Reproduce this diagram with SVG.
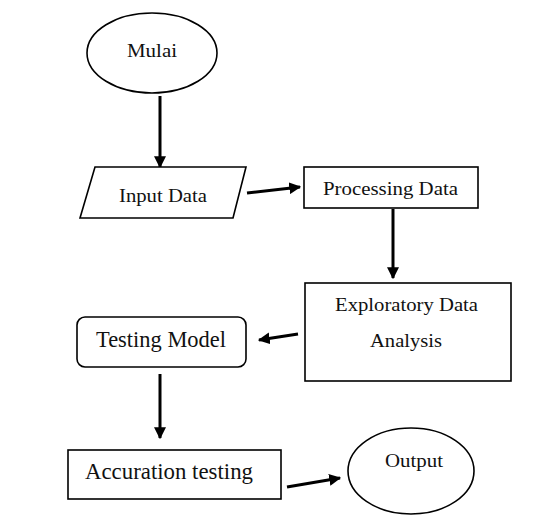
<svg xmlns="http://www.w3.org/2000/svg" width="539" height="516" viewBox="0 0 539 516">
<defs>
<style>
.s{fill:#fff;stroke:#000;stroke-width:1.6}
.t{font-family:"Liberation Serif","Times New Roman",serif;fill:#111;text-anchor:middle;font-size:19px}
.b{font-size:23px}
.c{stroke:#000;stroke-width:3;fill:none;marker-end:url(#ah)}
</style>
<marker id="ah" viewBox="0 0 10 10" refX="9" refY="5" markerWidth="4" markerHeight="4" orient="auto" markerUnits="strokeWidth">
<path d="M0,0 L10,5 L0,10 z" fill="#000"/>
</marker>
</defs>
<rect width="539" height="516" fill="#fff"/>
<g id="connectors">
<line class="c" x1="160" y1="96" x2="160" y2="167"/>
<line class="c" x1="247" y1="193" x2="300" y2="187"/>
<line class="c" x1="393" y1="209" x2="393" y2="278"/>
<line class="c" x1="298" y1="334" x2="259" y2="340"/>
<line class="c" x1="160" y1="374" x2="160" y2="438"/>
<line class="c" x1="287" y1="487" x2="340" y2="478"/>
</g>
<g id="mulai">
<ellipse class="s" cx="152" cy="53" rx="65" ry="40"/>
<text class="t" x="152" y="57" textLength="50" lengthAdjust="spacingAndGlyphs">Mulai</text>
</g>
<g id="input">
<polygon class="s" points="95,167 246,167 233,218 80,218"/>
<text class="t" x="163" y="202" textLength="88" lengthAdjust="spacingAndGlyphs">Input Data</text>
</g>
<g id="processing">
<rect class="s" x="304" y="167" width="174" height="41"/>
<text class="t" x="390.5" y="195" textLength="135" lengthAdjust="spacingAndGlyphs">Processing Data</text>
</g>
<g id="eda">
<rect class="s" x="305" y="283" width="206" height="98"/>
<text class="t" x="406.5" y="311" textLength="143" lengthAdjust="spacingAndGlyphs">Exploratory Data</text>
<text class="t" x="406" y="347" textLength="72" lengthAdjust="spacingAndGlyphs">Analysis</text>
</g>
<g id="testing">
<rect class="s" x="77" y="317" width="169" height="50" rx="8"/>
<text class="t b" x="161" y="347" textLength="130" lengthAdjust="spacingAndGlyphs">Testing Model</text>
</g>
<g id="accuration">
<rect class="s" x="68" y="450" width="213" height="49"/>
<text class="t b" x="169" y="479" textLength="168" lengthAdjust="spacingAndGlyphs">Accuration testing</text>
</g>
<g id="output">
<ellipse class="s" cx="411" cy="471" rx="63" ry="43"/>
<text class="t" x="414" y="467" textLength="58" lengthAdjust="spacingAndGlyphs">Output</text>
</g>
</svg>
